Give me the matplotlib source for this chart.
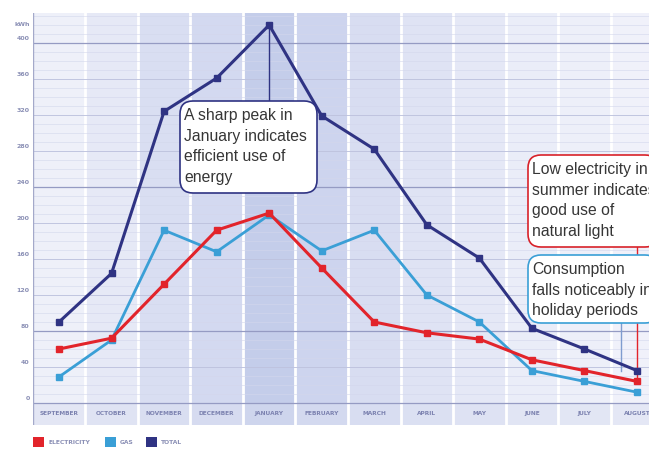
import matplotlib.pyplot as plt
from matplotlib.patches import FancyBboxPatch
import numpy as np

# monthly consumption (kWh)
months = ['SEPTEMBER', 'OCTOBER', 'NOVEMBER', 'DECEMBER', 'JANUARY', 'FEBRUARY',
          'MARCH', 'APRIL', 'MAY', 'JUNE', 'JULY', 'AUGUST']
electricity = [60, 72, 132, 192, 211, 150, 90, 78, 71, 48, 36, 24]
gas = [29, 70, 192, 168, 209, 169, 192, 120, 90, 36, 24, 12]
total = [90, 144, 324, 361, 420, 319, 282, 198, 161, 83, 60, 36]
yticks = list(range(0, 401, 40))

RED = '#e2242b'
BLUE = '#3a9fd6'
NAVY = '#2f3383'

W, H = 649, 454
fig = plt.figure(figsize=(W / 100, H / 100), dpi=100)

# axes placed in pixel coords: x 33..649, y 13..425
ax = fig.add_axes([33 / W, 1 - 425 / H, (W - 33) / W, (425 - 13) / H])
x = np.arange(len(months))
step = 52.55
ax.set_xlim(-(59 - 33) / step, 11 + (649 - 637) / step)
ax.set_ylim(-(425 - 403) / 0.9, (403 - 13) / 0.9)
ax.axis('off')

# shaded month columns
shades = ['#eef0f9', '#e6e9f6', '#d9def2', '#d3d9f0', '#c4cdea', '#cdd4ee',
          '#d8ddf1', '#dfe3f4', '#e5e8f6', '#eaedf8', '#edeff9', '#f0f1fa']
for i, c in enumerate(shades):
    ax.axvspan(i - 0.5, i + 0.5, color=c, lw=0, zorder=0)
    ax.axvline(i + 0.5, color='white', lw=2, zorder=1)
ax.axhspan(-30, 0, color='#d9def1', alpha=0.5, lw=0, zorder=0.5)

# gridlines
for v in range(0, 431, 10):
    ax.axhline(v, color='#d3d7ec', lw=0.4, zorder=1.5)
for v in yticks:
    ax.axhline(v, color='#bcc1dd', lw=0.6, zorder=1.6)
for v in [400, 240, 80, 0]:
    ax.axhline(v, color='#959bc3', lw=0.9, zorder=1.7)
ax.axvline(-0.495, color='#a4a9ca', lw=1.0, zorder=2)

# y tick labels
for v in yticks:
    ax.text(-0.56, v + 5, str(v), ha='right', va='center', fontsize=4.5,
            color='#8a8fb5', fontweight='bold')
ax.text(-0.56, 433 - 12, 'kWh', ha='right', va='center', fontsize=4.5,
        color='#8a8fb5', fontweight='bold')

# x tick labels
for i, m in enumerate(months):
    ax.text(i, -12, m, ha='center', va='center', fontsize=4.2,
            color='#7c82b0', fontweight='bold')

# series
ax.plot(x, total, color=NAVY, lw=2.2, marker='s', ms=4, zorder=5)
ax.plot(x, gas, color=BLUE, lw=2.0, marker='s', ms=4, zorder=4)
ax.plot(x, electricity, color=RED, lw=2.2, marker='s', ms=4, zorder=6)

# callout leader lines
ax.plot([4, 4], [total[4], 320], color=NAVY, lw=1, zorder=3)
ax.plot([11, 11], [electricity[11], 173], color=RED, lw=1, zorder=3)
ax.plot([10.7, 10.7], [total[11], 90], color='#7f9ccf', lw=1, zorder=3)

# annotation boxes
def callout(xp, yp, w, h, txt, ec):
    fb = FancyBboxPatch((xp / W, 1 - (yp + h) / H), w / W, h / H,
                        boxstyle='round,pad=0,rounding_size=0.02',
                        transform=fig.transFigure, fc='white', ec=ec, lw=1.2,
                        zorder=10, mutation_aspect=W / H)
    fig.patches.append(fb)
    fig.text((xp + 4) / W, 1 - (yp + 7) / H, txt, ha='left', va='top',
             fontsize=11.3, color='#363636', linespacing=1.46, zorder=11,
             family='Liberation Sans')

callout(180, 101, 137, 92,
        'A sharp peak in\nJanuary indicates\nefficient use of\nenergy', NAVY)
callout(528, 155, 130, 92,
        'Low electricity in\nsummer indicates\ngood use of\nnatural light', '#d8222a')
callout(528, 255, 130, 68,
        'Consumption\nfalls noticeably in\nholiday periods', BLUE)

# legend
for xp, c, lab in [(33, RED, 'ELECTRICITY'), (105, BLUE, 'GAS'), (146, NAVY, 'TOTAL')]:
    fig.patches.append(plt.Rectangle((xp / W, 1 - 447 / H), 11 / W, 10 / H,
                                     transform=fig.transFigure, fc=c, ec='none'))
    fig.text((xp + 15) / W, 1 - 442 / H, lab, ha='left', va='center',
             fontsize=4.3, color='#8a8fb5', fontweight='bold')

fig.savefig('out.png', dpi=100, facecolor='white')
